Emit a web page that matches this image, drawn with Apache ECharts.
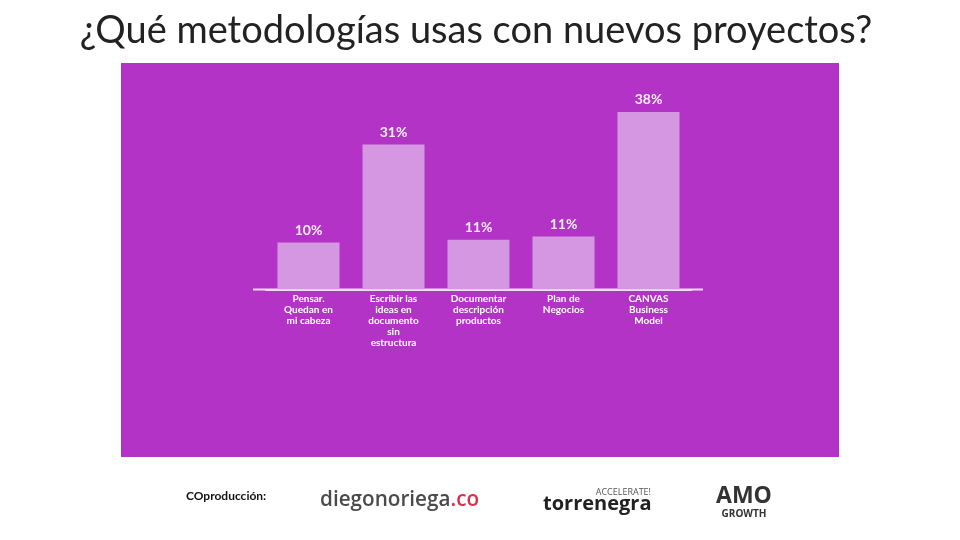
<!DOCTYPE html>
<html><head><meta charset="utf-8">
<script src="https://cdn.jsdelivr.net/npm/echarts@6/dist/echarts.min.js"></script>
<style>html,body{margin:0;padding:0;background:#fff}#c{width:960px;height:540px}</style>
</head><body><div id="c"></div>
<script>
const titleText = '¿Qué metodologías usas con nuevos proyectos?';
const categories = [
  'Pensar.\nQuedan en\nmi cabeza',
  'Escribir las\nideas en\ndocumento\nsin\nestructura',
  'Documentar\ndescripción\nproductos',
  'Plan de\nNegocios',
  'CANVAS\nBusiness\nModel'
];
const values = [10, 31, 10.6, 11.3, 38];
const valueLabels = ['10%', '31%', '11%', '11%', '38%'];

const chart = echarts.init(document.getElementById('c'), null, {renderer: 'canvas'});
const font = 'Lato, "Open Sans", sans-serif';
chart.setOption({
  backgroundColor: '#ffffff',
  animation: false,
  graphic: [
    {type: 'rect', z: -10, shape: {x: 121, y: 63, width: 718, height: 394}, style: {fill: '#b233c6'}},
    {type: 'line', z: 1, shape: {x1: 253, y1: 289.5, x2: 703, y2: 289.5}, style: {stroke: '#f1dcf5', lineWidth: 2}},
    {type: 'text', x: 476, y: 12, style: {text: titleText, font: '38px Lato, sans-serif', fill: '#222222', align: 'center'}},
    {type: 'text', x: 186, y: 490, style: {text: 'COproducción:', font: 'bold 12px Lato, sans-serif', fill: '#111'}},
    {type: 'text', x: 320, y: 490, style: {rich: {a: {font: '600 20.7px "Open Sans", sans-serif', fill: '#4a4a4a'}, b: {font: '600 20.7px "Open Sans", sans-serif', fill: '#d7314a'}}, text: '{a|diegonoriega}{b|.co}'}},
    {type: 'text', x: 651, y: 488, style: {text: 'ACCELERATE!', font: '9px "Open Sans", sans-serif', fill: '#555', align: 'right'}},
    {type: 'text', x: 543, y: 494, style: {text: 'torrenegra', font: 'bold 20px "Open Sans", sans-serif', fill: '#222'}},
    {type: 'text', x: 744, y: 485, style: {text: 'AMO', font: 'bold 23px "Liberation Sans Narrow", "Open Sans", sans-serif', fill: '#333', align: 'center'}},
    {type: 'text', x: 744, y: 509, style: {text: 'GROWTH', font: 'bold 10px "Liberation Sans Narrow", "Open Sans", sans-serif', fill: '#333', align: 'center'}}
  ],
  grid: {left: 266, width: 425, top: 102.6, height: 186.7},
  xAxis: {
    type: 'category', data: categories,
    axisLine: {show: true, lineStyle: {color: '#f1dcf5', width: 2}},
    axisTick: {show: false},
    axisLabel: {interval: 0, color: '#ffffff', fontFamily: font, fontWeight: 'bold', fontSize: 10, lineHeight: 11, margin: 4}
  },
  yAxis: {type: 'value', min: 0, max: 40, show: false, splitLine: {show: false}},
  series: [{
    type: 'bar', data: values, barWidth: 62,
    itemStyle: {color: '#d597e2'},
    label: {show: true, position: 'top', distance: 5, color: '#fbeefc', fontFamily: font, fontWeight: 'bold', fontSize: 14,
      formatter: p => valueLabels[p.dataIndex]}
  }]
});
</script></body></html>
